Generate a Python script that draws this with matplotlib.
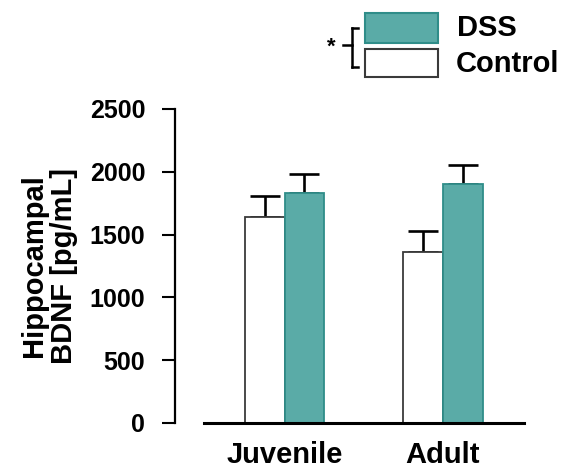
import numpy as np
import matplotlib
matplotlib.use('Agg')
import matplotlib.pyplot as plt
from matplotlib.patches import Rectangle
from matplotlib.lines import Line2D

# data
groups = ['Juvenile', 'Adult']
control_mean = [1643, 1364]
control_sem = [164, 165]
dss_mean = [1829, 1903]
dss_sem = [156, 154]
y_ticks = [0, 500, 1000, 1500, 2000, 2500]

plt.rcParams['font.family'] = ['Liberation Sans', 'DejaVu Sans']
plt.rcParams['font.weight'] = 'bold'

W, H = 566, 471
teal = '#5aaba7'
teal_edge = '#2f8d89'

fig = plt.figure(figsize=(W / 100, H / 100), dpi=100)
ax = fig.add_axes([175 / W, 1 - 423 / H, 349 / W, 314 / H])

x = np.arange(len(groups))
bw = 0.252
ax.bar(x - bw / 2, control_mean, bw, color='white', edgecolor='#3a3a3a', linewidth=1.3, zorder=2)
ax.bar(x + bw / 2, dss_mean, bw, color=teal, edgecolor=teal_edge, linewidth=1.3, zorder=2)
ax.errorbar(x - bw / 2, control_mean, yerr=[np.zeros(2), control_sem], fmt='none',
            ecolor='black', elinewidth=1.9, capsize=11, capthick=1.9, zorder=1)
ax.errorbar(x + bw / 2, dss_mean, yerr=[np.zeros(2), dss_sem], fmt='none',
            ecolor='black', elinewidth=1.9, capsize=11, capthick=1.9, zorder=1)

ax.set_xlim(-0.691, 1.511)
ax.set_ylim(0, 2500)
ax.set_yticks(y_ticks)
ax.set_yticklabels([str(t) for t in y_ticks], fontsize=18, fontweight='bold')
ax.set_xticks(x)
ax.set_xticklabels(groups, fontsize=21, fontweight='bold')
ax.tick_params(axis='x', length=0, pad=13)
ax.tick_params(axis='y', length=9.5, width=1.5, pad=12)

for s in ['top', 'right']:
    ax.spines[s].set_visible(False)
ax.spines['left'].set_linewidth(1.6)
ax.spines['bottom'].set_linewidth(2.2)
ax.spines['bottom'].set_bounds(-0.508, 1.511)

ax.set_ylabel('Hippocampal\nBDNF [pg/mL]', fontsize=21, fontweight='bold',
              linespacing=1.1, labelpad=8)


# legend drawn by hand in pixel positions
def fx(px):
    return px / W


def fy(py):
    return 1 - py / H


fig.add_artist(Rectangle((fx(365), fy(43)), 73 / W, 30 / H, transform=fig.transFigure,
                         facecolor=teal, edgecolor=teal_edge, linewidth=1.5))
fig.add_artist(Rectangle((fx(365), fy(77)), 73 / W, 28 / H, transform=fig.transFigure,
                         facecolor='white', edgecolor='#3a3a3a', linewidth=1.5))
fig.text(fx(457), fy(28), 'DSS', fontsize=21, fontweight='bold', va='center', ha='left')
fig.text(fx(456), fy(64), 'Control', fontsize=21, fontweight='bold', va='center', ha='left')

bracket = [([352, 352], [28, 67]), ([352, 358], [28, 28]), ([352, 358], [67, 67]),
           ([343, 352], [45, 45])]
for bx, by in bracket:
    fig.add_artist(Line2D([fx(v) for v in bx], [fy(v) for v in by], transform=fig.transFigure,
                          color='black', linewidth=1.8))
fig.text(fx(331), fy(47), '*', fontsize=16, fontweight='bold', va='center', ha='center')

plt.savefig('out.png', dpi=100)
